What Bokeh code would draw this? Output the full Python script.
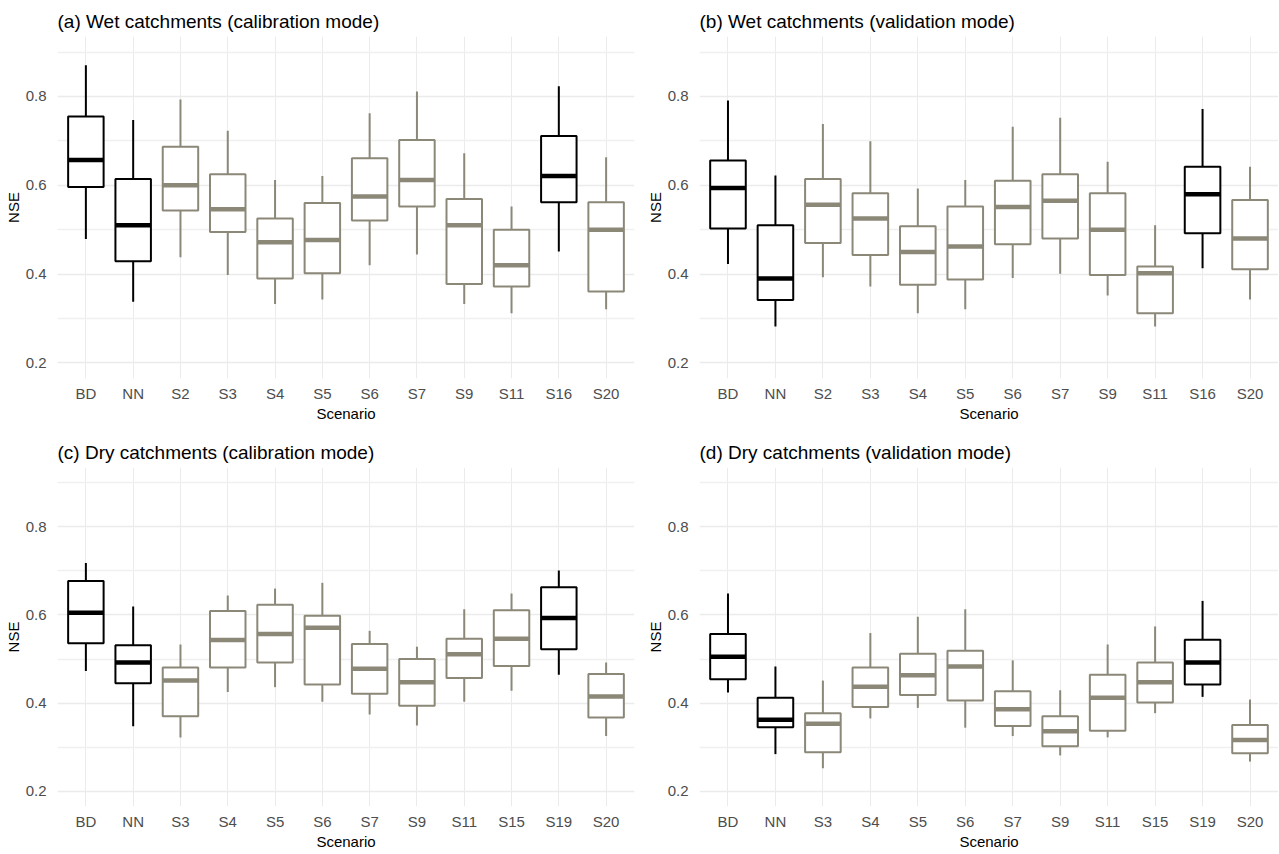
from bokeh.plotting import figure
from bokeh.models import ColumnDataSource, FactorRange, Range1d, FixedTicker
from bokeh.layouts import gridplot
from bokeh.embed import file_html
from bokeh.resources import INLINE

# ---------------- data ----------------
cats_wet = ["BD", "NN", "S2", "S3", "S4", "S5", "S6", "S7", "S9", "S11", "S16", "S20"]
cats_dry = ["BD", "NN", "S3", "S4", "S5", "S6", "S7", "S9", "S11", "S15", "S19", "S20"]

hl_wet = ["BD", "NN", "S16"]
hl_dry = ["BD", "NN", "S19"]

# (a) Wet catchments, calibration
a_low = [0.479, 0.338, 0.438, 0.398, 0.333, 0.343, 0.420, 0.444, 0.333, 0.312, 0.451, 0.321]
a_q1 = [0.596, 0.429, 0.543, 0.495, 0.390, 0.402, 0.521, 0.552, 0.378, 0.372, 0.562, 0.361]
a_med = [0.657, 0.510, 0.600, 0.546, 0.472, 0.477, 0.575, 0.612, 0.510, 0.420, 0.621, 0.500]
a_q3 = [0.755, 0.614, 0.687, 0.625, 0.525, 0.560, 0.661, 0.702, 0.569, 0.500, 0.711, 0.562]
a_high = [0.870, 0.747, 0.793, 0.723, 0.612, 0.621, 0.762, 0.811, 0.672, 0.552, 0.823, 0.663]

# (b) Wet catchments, validation
b_low = [0.423, 0.282, 0.393, 0.372, 0.312, 0.321, 0.391, 0.401, 0.352, 0.282, 0.413, 0.343]
b_q1 = [0.503, 0.342, 0.470, 0.443, 0.376, 0.388, 0.467, 0.480, 0.398, 0.312, 0.492, 0.411]
b_med = [0.594, 0.390, 0.556, 0.525, 0.450, 0.462, 0.551, 0.565, 0.500, 0.402, 0.580, 0.480]
b_q3 = [0.656, 0.510, 0.614, 0.582, 0.508, 0.552, 0.610, 0.625, 0.582, 0.417, 0.642, 0.567]
b_high = [0.791, 0.622, 0.738, 0.699, 0.593, 0.612, 0.732, 0.752, 0.653, 0.510, 0.772, 0.642]

# (c) Dry catchments, calibration
c_low = [0.473, 0.347, 0.322, 0.425, 0.436, 0.403, 0.374, 0.349, 0.403, 0.428, 0.464, 0.325]
c_q1 = [0.536, 0.445, 0.370, 0.481, 0.492, 0.442, 0.421, 0.394, 0.457, 0.484, 0.522, 0.367]
c_med = [0.605, 0.492, 0.451, 0.543, 0.557, 0.571, 0.478, 0.447, 0.511, 0.546, 0.593, 0.415]
c_q3 = [0.677, 0.531, 0.481, 0.609, 0.623, 0.598, 0.534, 0.500, 0.546, 0.611, 0.663, 0.466]
c_high = [0.718, 0.619, 0.533, 0.644, 0.660, 0.673, 0.564, 0.528, 0.613, 0.649, 0.701, 0.492]

# (d) Dry catchments, validation
d_low = [0.424, 0.284, 0.252, 0.365, 0.389, 0.344, 0.325, 0.281, 0.322, 0.377, 0.414, 0.267]
d_q1 = [0.454, 0.345, 0.288, 0.391, 0.418, 0.406, 0.348, 0.302, 0.337, 0.401, 0.442, 0.286]
d_med = [0.505, 0.362, 0.353, 0.437, 0.463, 0.483, 0.386, 0.336, 0.412, 0.447, 0.492, 0.316]
d_q3 = [0.557, 0.412, 0.377, 0.481, 0.512, 0.519, 0.427, 0.370, 0.464, 0.492, 0.544, 0.350]
d_high = [0.649, 0.483, 0.451, 0.559, 0.596, 0.613, 0.497, 0.429, 0.533, 0.574, 0.632, 0.408]

titles = [
    "(a) Wet catchments (calibration mode)",
    "(b) Wet catchments (validation mode)",
    "(c) Dry catchments (calibration mode)",
    "(d) Dry catchments (validation mode)",
]

y_ticks = [0.2, 0.4, 0.6, 0.8]
y_minor = [0.3, 0.5, 0.7, 0.9]

BLACK = "#000000"
GREY = "#8B8878"
FONT = "Liberation Sans"


def make_panel(title, cats, hl, low, q1, med, q3, high,
               width, height, left, right, top, bottom):
    colors = [BLACK if c in hl else GREY for c in cats]
    src = ColumnDataSource(dict(x=cats, low=low, q1=q1, med=med, q3=q3,
                                high=high, color=colors))
    p = figure(width=width, height=height, output_backend="svg", toolbar_location=None,
               x_range=FactorRange(factors=cats, range_padding=0.1,
                                   range_padding_units="absolute"),
               y_range=Range1d(0.165, 0.935),
               min_border_left=left, min_border_right=right,
               min_border_top=top, min_border_bottom=bottom)
    p.outline_line_color = None
    p.background_fill_color = "white"
    p.border_fill_color = "white"

    p.title.text = title
    p.title.text_font = FONT
    p.title.text_font_size = "19px"
    p.title.text_font_style = "normal"
    p.title.text_color = "#000000"
    p.title.standoff = 9

    # grids
    p.xgrid.grid_line_color = "#EBEBEB"
    p.xgrid.grid_line_width = 1
    p.ygrid.grid_line_color = "#EBEBEB"
    p.ygrid.grid_line_width = 1.7
    p.ygrid.minor_grid_line_color = "#F0F0F0"
    p.ygrid.minor_grid_line_width = 1.4

    p.yaxis.ticker = FixedTicker(ticks=y_ticks, minor_ticks=y_minor)

    for ax in (p.xaxis[0], p.yaxis[0]):
        ax.axis_line_color = None
        ax.major_tick_line_color = None
        ax.minor_tick_line_color = None
        ax.major_tick_out = 0
        ax.major_tick_in = 0
        ax.major_label_text_font = FONT
        ax.major_label_text_font_size = "15px"
        ax.major_label_text_color = "#4D4D4D"
        ax.axis_label_text_font = FONT
        ax.axis_label_text_font_size = "15px"
        ax.axis_label_text_font_style = "normal"
        ax.axis_label_text_color = "#000000"

    p.xaxis.axis_label = "Scenario"
    p.xaxis.major_label_standoff = 6
    p.xaxis.axis_label_standoff = 0
    p.yaxis.axis_label = "NSE"
    p.yaxis.major_label_standoff = 7
    p.yaxis.axis_label_standoff = 1

    # whiskers
    p.segment(x0="x", y0="q3", x1="x", y1="high", source=src,
              line_color="color", line_width=2)
    p.segment(x0="x", y0="low", x1="x", y1="q1", source=src,
              line_color="color", line_width=2)
    # boxes
    p.vbar(x="x", bottom="q1", top="q3", width=0.75, source=src,
           fill_color="white", line_color="color", line_width=2)
    # medians
    p.rect(x="x", y="med", width=0.75, height=4.5, height_units="screen",
           source=src, fill_color="color", line_color=None)
    return p


pa = make_panel(titles[0], cats_wet, hl_wet, a_low, a_q1, a_med, a_q3, a_high,
                640, 426, 57, 6, 36, 48)
pb = make_panel(titles[1], cats_wet, hl_wet, b_low, b_q1, b_med, b_q3, b_high,
                638, 426, 59, 0, 36, 48)
pc = make_panel(titles[2], cats_dry, hl_dry, c_low, c_q1, c_med, c_q3, c_high,
                640, 426, 57, 6, 41, 45)
pd = make_panel(titles[3], cats_dry, hl_dry, d_low, d_q1, d_med, d_q3, d_high,
                638, 426, 59, 0, 41, 45)

grid = gridplot([[pa, pb], [pc, pd]], toolbar_location=None)

open("out.html", "w").write(file_html(grid, INLINE))
